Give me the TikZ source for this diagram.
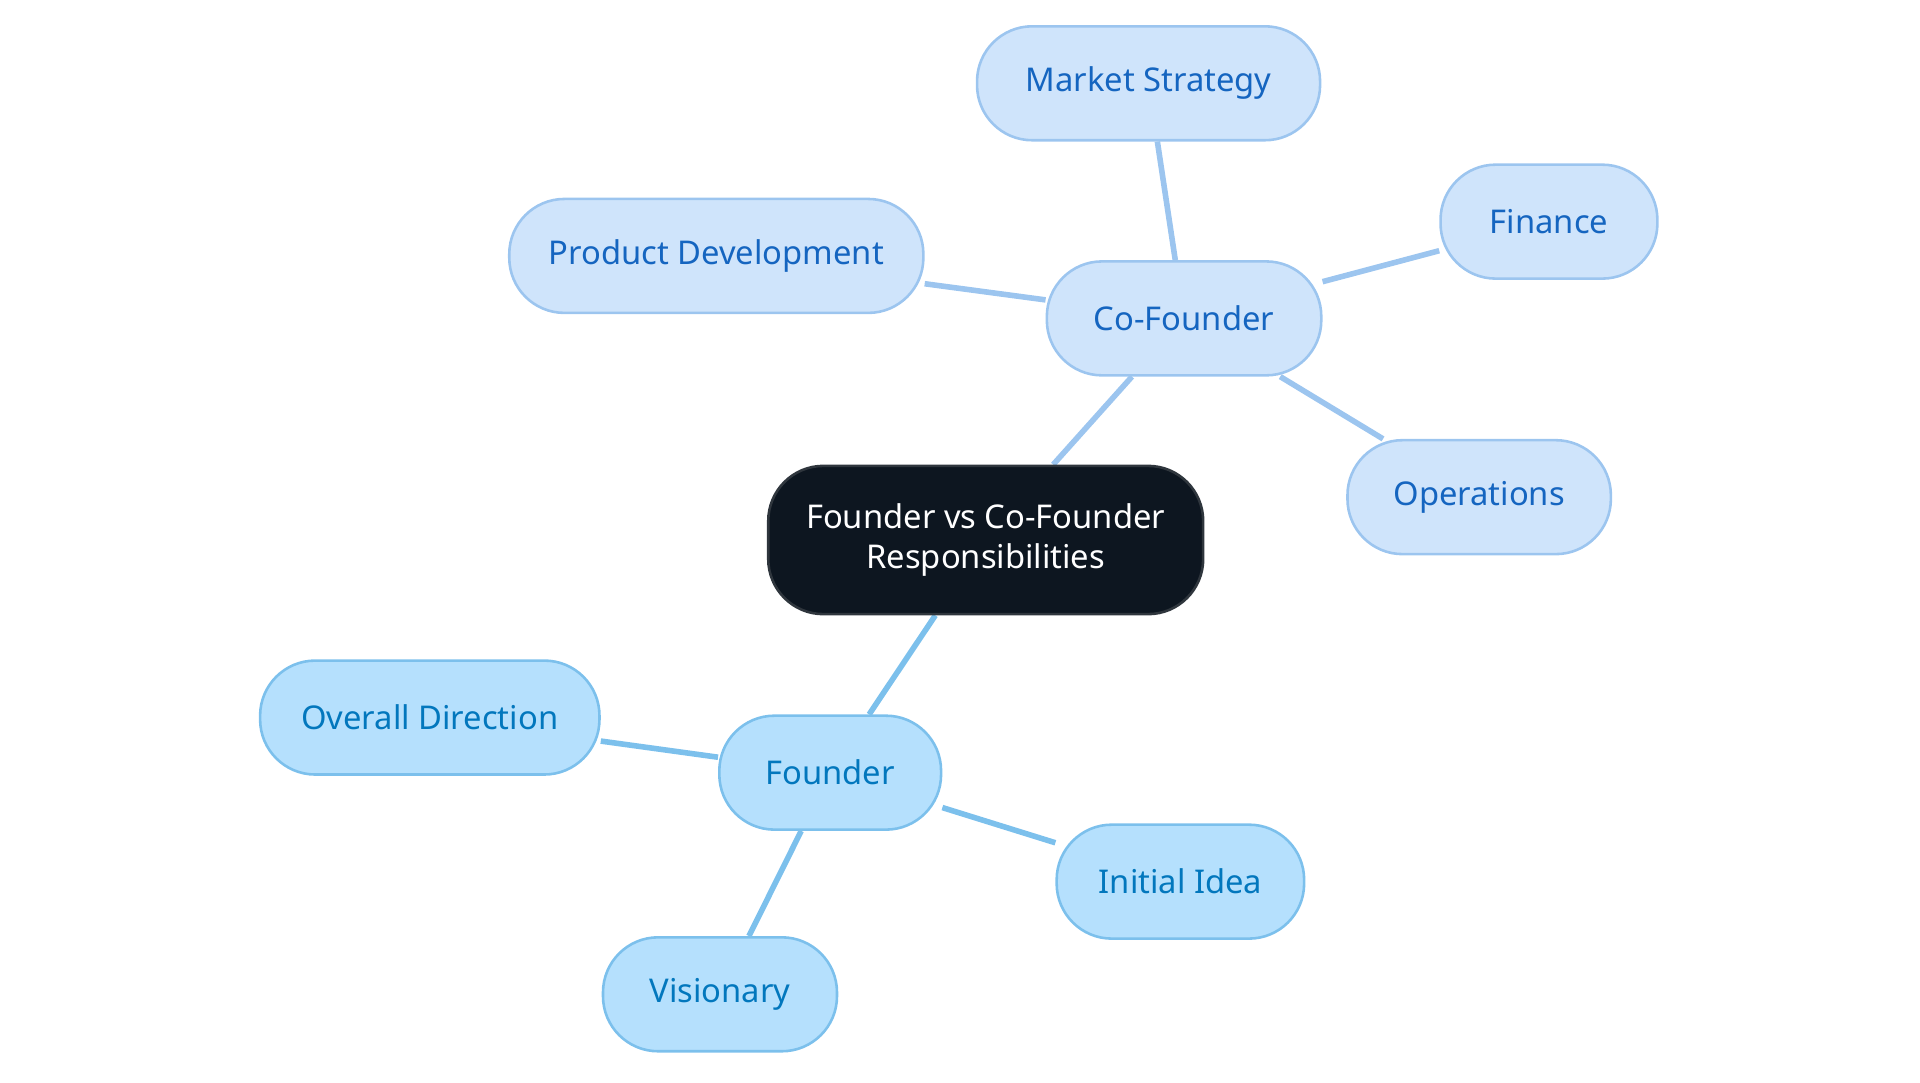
\documentclass[tikz,border=0pt]{standalone}
\usepackage{fontspec}
\setmainfont{Noto Sans}
\usetikzlibrary{backgrounds}
\definecolor{rootfill}{HTML}{0D1620}
\definecolor{cofill}{HTML}{CFE4FB}
\definecolor{coline}{HTML}{9CC5EF}
\definecolor{cotext}{HTML}{1565C0}
\definecolor{fofill}{HTML}{B5E0FD}
\definecolor{foline}{HTML}{7CC0EC}
\definecolor{fotext}{HTML}{0277BD}
\tikzset{
  box/.style={rounded corners=0.45cm, minimum height=0.93cm, inner sep=0pt, line width=0.6pt,
    font=\fontsize{7.6}{9.2}\selectfont, align=center},
  rootbox/.style={box, fill=rootfill, draw=rootfill!70!gray, text=white, minimum height=1.21cm, minimum width=3.55cm},
  cobox/.style={box, fill=cofill, draw=coline, text=cotext},
  fobox/.style={box, fill=fofill, draw=foline, text=fotext},
  colink/.style={draw=coline, line width=1.3pt},
  folink/.style={draw=foline, line width=1.3pt}
}
\begin{document}
\begin{tikzpicture}[x=0.01cm, y=-0.01cm]
	\useasboundingbox (0,0) rectangle (1568,884);
	\node[rootbox] (root) at (805,441) {Founder vs Co-Founder\\Responsibilities};
	\node[cobox, minimum width=2.24cm] (cof) at (967,260) {Co-Founder};
	\node[cobox, minimum width=2.80cm] (mkt) at (938,68) {Market Strategy};
	\node[cobox, minimum width=1.77cm] (fin) at (1265,181) {Finance};
	\node[cobox, minimum width=3.38cm] (prod) at (585,209) {Product Development};
	\node[cobox, minimum width=2.15cm] (ops) at (1208,406) {Operations};
	\node[fobox, minimum width=1.81cm] (fou) at (678,631) {Founder};
	\node[fobox, minimum width=2.77cm] (dir) at (351,586) {Overall Direction};
	\node[fobox, minimum width=2.02cm] (idea) at (964,720) {Initial Idea};
	\node[fobox, minimum width=1.91cm] (vis) at (588,812) {Visionary};
	\begin{scope}[on background layer]
		\path[colink] (root) -- (cof) (cof) -- (mkt) (cof) -- (fin) (cof) -- (prod) (cof) -- (ops);
		\path[folink] (root) -- (fou) (fou) -- (dir) (fou) -- (idea) (fou) -- (vis);
	\end{scope}
\end{tikzpicture}
\end{document}
